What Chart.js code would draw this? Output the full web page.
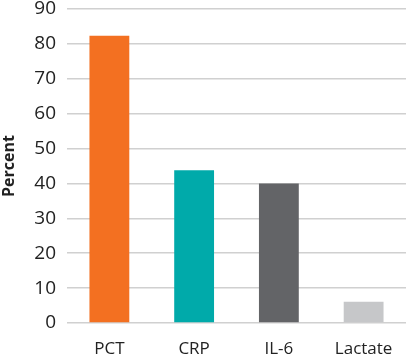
<!DOCTYPE html>
<html>
<head>
<meta charset="utf-8">
<script src="https://cdn.jsdelivr.net/npm/chart.js@4"></script>
<style>
  html, body { margin: 0; padding: 0; background: #fff; }
</style>
</head>
<body>
<canvas id="myChart" width="410" height="360"></canvas>
<script>
// chart data
var categories = ['PCT', 'CRP', 'IL-6', 'Lactate'];
var percentValues = [82.3, 43.8, 40, 6.1];
var barColors = ['#F37021', '#00AAAA', '#636467', '#C6C7C9'];
var yTicks = [0, 10, 20, 30, 40, 50, 60, 70, 80, 90];

var ctx = document.getElementById('myChart').getContext('2d');

var myChart = new Chart(ctx, {
    type: 'bar',
    data: {
        labels: categories,
        datasets: [{
            label: 'Percent',
            data: percentValues,
            backgroundColor: barColors,
            borderWidth: 0,
            categoryPercentage: 1,
            barPercentage: 0.47
        }]
    },
    options: {
        responsive: false,
        animation: false,
        layout: { padding: { top: 9, right: 4, bottom: 0, left: 0 } },
        plugins: {
            legend: { display: false },
            tooltip: { enabled: false }
        },
        scales: {
            x: {
                grid: { display: false, drawTicks: false },
                border: { display: false },
                afterFit: function (axis) { axis.height = 37; },
                ticks: {
                    color: '#222',
                    padding: 16,
                    font: { family: 'Open Sans', size: 17 }
                }
            },
            y: {
                min: 0,
                max: 90,
                afterBuildTicks: function (axis) {
                    axis.ticks = yTicks.map(function (v) { return { value: v }; });
                },
                afterFit: function (axis) {
                    axis.width = 67;
                    axis.paddingTop = 0;
                    axis.paddingBottom = 0;
                },
                grid: { color: '#D0D0D0', lineWidth: 1.5, drawTicks: false },
                border: { display: false },
                ticks: {
                    color: '#222',
                    padding: 11,
                    font: { family: 'Open Sans', size: 19 }
                },
                title: {
                    display: true,
                    text: 'Percent',
                    color: '#222',
                    padding: { top: 0, bottom: 4 },
                    font: { family: 'Open Sans', size: 16, weight: 'bold' }
                }
            }
        }
    }
});
</script>
</body>
</html>
